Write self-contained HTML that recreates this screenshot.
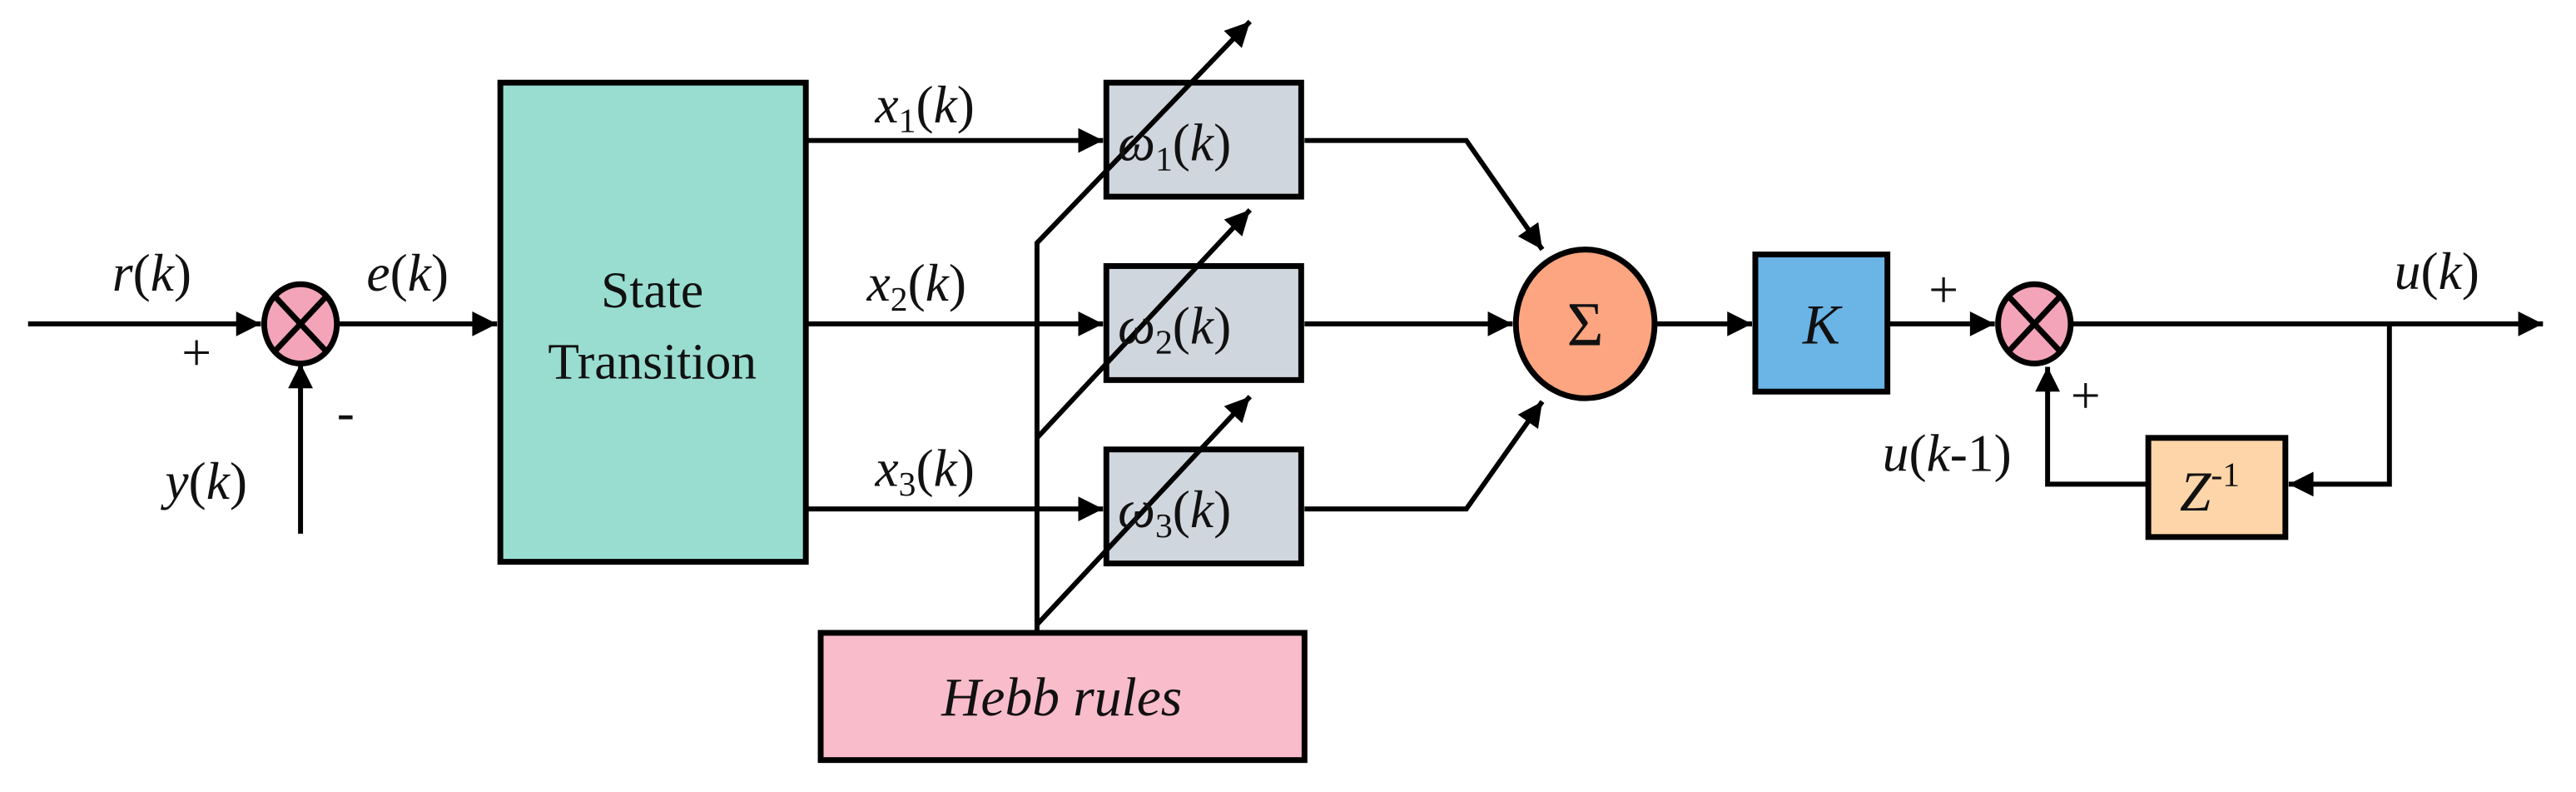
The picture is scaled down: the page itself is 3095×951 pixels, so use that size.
<!DOCTYPE html>
<html><head><meta charset="utf-8"><style>
html,body{margin:0;padding:0;background:#fff;}
svg{display:block;}
text{font-family:"Liberation Serif",serif;fill:#111;}
.i{font-style:italic;}
</style></head><body>
<svg width="3095" height="951" viewBox="0 0 1560 479.3" xmlns="http://www.w3.org/2000/svg">
<defs>
<marker id="a" viewBox="0 0 10 10" refX="10" refY="5" markerWidth="7.5" markerHeight="5" markerUnits="strokeWidth" orient="auto">
<path d="M0,0 L10,5 L0,10 Z" fill="#000"/></marker>
</defs>
<g stroke="#000" stroke-width="3" fill="none">
<line x1="17" y1="196" x2="158" y2="196" marker-end="url(#a)"/>
<line x1="182" y1="323" x2="182" y2="220" marker-end="url(#a)"/>
<line x1="204" y1="196" x2="301" y2="196" marker-end="url(#a)"/>
<line x1="488" y1="85" x2="668" y2="85" marker-end="url(#a)"/>
<line x1="488" y1="196" x2="668" y2="196" marker-end="url(#a)"/>
<line x1="488" y1="308" x2="668" y2="308" marker-end="url(#a)"/>
</g>
<g stroke="#000" stroke-width="3.5">
<rect x="303" y="50" width="185" height="290" fill="#99ddd0"/>
<rect x="670" y="50" width="118" height="69" fill="#d0d6de"/>
<rect x="670" y="161" width="118" height="69" fill="#d0d6de"/>
<rect x="670" y="272" width="118" height="69" fill="#d0d6de"/>
<rect x="497" y="383" width="293" height="77" fill="#f9bccb"/>
<ellipse cx="182" cy="196" rx="22" ry="24" fill="#f4a4b8"/>
<ellipse cx="960" cy="196" rx="42" ry="45" fill="#fca580"/>
<rect x="1063" y="154" width="80" height="83" fill="#6ab4e6"/>
<ellipse cx="1232" cy="196" rx="22" ry="24" fill="#f4a4b8"/>
<rect x="1301" y="265" width="83" height="60" fill="#fdd5a8"/>
</g>
<g stroke="#000" stroke-width="3.5">
<line x1="167" y1="180" x2="197" y2="212"/><line x1="197" y1="180" x2="167" y2="212"/>
<line x1="1217" y1="180" x2="1247" y2="212"/><line x1="1247" y1="180" x2="1217" y2="212"/>
</g>
<g stroke="#000" stroke-width="3" fill="none">
<polyline points="628,383 628,147 757,13" marker-end="url(#a)"/>
<polyline points="628,265 757,127" marker-end="url(#a)"/>
<polyline points="628,378 757,240" marker-end="url(#a)"/>
<polyline points="790,85 888,85 934,151" marker-end="url(#a)"/>
<line x1="790" y1="196" x2="916" y2="196" marker-end="url(#a)"/>
<polyline points="790,308 888,308 934,243" marker-end="url(#a)"/>
<line x1="1002" y1="196" x2="1061" y2="196" marker-end="url(#a)"/>
<line x1="1143" y1="196" x2="1208" y2="196" marker-end="url(#a)"/>
<line x1="1254" y1="196" x2="1540" y2="196" marker-end="url(#a)"/>
<polyline points="1447,196 1447,293 1386,293" marker-end="url(#a)"/>
<polyline points="1301,293 1240,293 1240,222" marker-end="url(#a)"/>
</g>
<g font-size="32">
<text x="68" y="176" class="i">r<tspan font-style="normal">(</tspan>k<tspan font-style="normal">)</tspan></text>
<text x="222" y="176" class="i">e<tspan font-style="normal">(</tspan>k<tspan font-style="normal">)</tspan></text>
<text x="110" y="224">+</text>
<text x="204" y="260">-</text>
<text x="100" y="302" class="i">y<tspan font-style="normal">(</tspan>k<tspan font-style="normal">)</tspan></text>
<text x="395" y="186" text-anchor="middle" font-size="31">State</text>
<text x="395" y="229" text-anchor="middle" font-size="31">Transition</text>
<text x="530" y="74" class="i">x<tspan font-style="normal" font-size="21" dy="6">1</tspan><tspan font-style="normal" dy="-6">(</tspan>k<tspan font-style="normal">)</tspan></text>
<text x="525" y="182" class="i">x<tspan font-style="normal" font-size="21" dy="6">2</tspan><tspan font-style="normal" dy="-6">(</tspan>k<tspan font-style="normal">)</tspan></text>
<text x="530" y="294" class="i">x<tspan font-style="normal" font-size="21" dy="6">3</tspan><tspan font-style="normal" dy="-6">(</tspan>k<tspan font-style="normal">)</tspan></text>
<text x="677" y="97" class="i">ω<tspan font-style="normal" font-size="21" dy="6">1</tspan><tspan font-style="normal" dy="-6">(</tspan>k<tspan font-style="normal">)</tspan></text>
<text x="677" y="208" class="i">ω<tspan font-style="normal" font-size="21" dy="6">2</tspan><tspan font-style="normal" dy="-6">(</tspan>k<tspan font-style="normal">)</tspan></text>
<text x="677" y="319" class="i">ω<tspan font-style="normal" font-size="21" dy="6">3</tspan><tspan font-style="normal" dy="-6">(</tspan>k<tspan font-style="normal">)</tspan></text>
<text x="643" y="433" class="i" text-anchor="middle" font-size="33">Hebb rules</text>
<text x="960" y="209" text-anchor="middle" font-size="38">Σ</text>
<text x="1103" y="208" text-anchor="middle" class="i" font-size="34">K</text>
<text x="1168" y="186">+</text>
<text x="1254" y="250">+</text>
<text x="1450" y="175" class="i">u<tspan font-style="normal">(</tspan>k<tspan font-style="normal">)</tspan></text>
<text x="1140" y="285" class="i">u<tspan font-style="normal">(</tspan>k<tspan font-style="normal">-1)</tspan></text>
<text x="1320" y="309" class="i" font-size="34">Z<tspan font-style="normal" font-size="21" dy="-15">-1</tspan></text>
</g>
</svg>
</body></html>
